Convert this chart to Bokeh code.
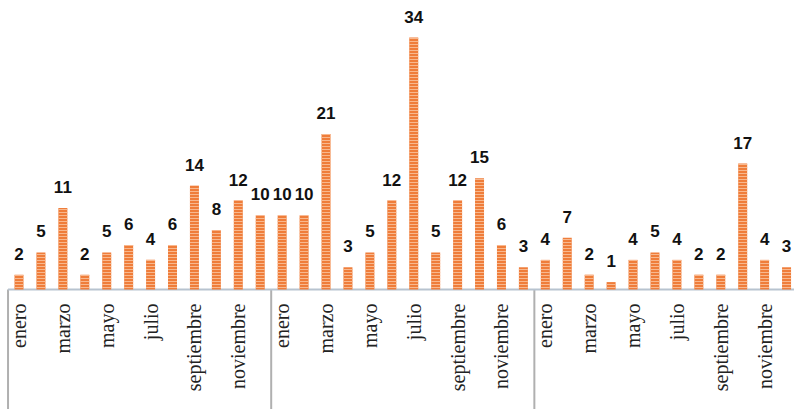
import math
from bokeh.plotting import figure
from bokeh.models import ColumnDataSource, Range1d
from bokeh.core.properties import value
from bokeh.embed import file_html
from bokeh.resources import INLINE

months = ["enero", "febrero", "marzo", "abril", "mayo", "junio", "julio",
          "agosto", "septiembre", "octubre", "noviembre", "diciembre"]
year1 = [2, 5, 11, 2, 5, 6, 4, 6, 14, 8, 12, 10]
year2 = [10, 10, 21, 3, 5, 12, 34, 5, 12, 15, 6, 3]
year3 = [4, 7, 2, 1, 4, 5, 4, 2, 2, 17, 4, 3]
years = [year1, year2, year3]

counts = year1 + year2 + year3
n = len(counts)
xs = list(range(n))
source = ColumnDataSource(dict(x=xs, top=counts, label=[str(v) for v in counts]))

tick_pos = [i for i in xs if i % 2 == 0]
tick_src = ColumnDataSource(dict(x=tick_pos, y=[0] * len(tick_pos),
                                 label=[months[i % 12] for i in tick_pos]))

W, H = 794, 409
pitch = 21.93
first_px = 18.5
base_px = 289
unit_px = 7.41

x0 = -first_px / pitch
y_top = base_px / unit_px
y_bot = -(H - base_px) / unit_px

p = figure(width=W, height=H, output_backend="svg", toolbar_location=None,
           x_range=Range1d(x0, x0 + W / pitch),
           y_range=Range1d(y_bot, y_top),
           x_axis_location=None, y_axis_location=None,
           min_border=0)
p.outline_line_color = None
p.grid.visible = False
p.background_fill_color = "white"
p.border_fill_color = "white"

# group separators and baseline
bounds = [k * 12 - 0.5 for k in range(len(years) + 1)]
p.segment(x0=bounds, x1=bounds, y0=[0] * len(bounds), y1=[y_bot] * len(bounds),
          line_color="#b0b0b0", line_width=2)
p.segment(x0=[bounds[0]], x1=[bounds[-1]], y0=[0], y1=[0],
          line_color="#b7c3cf", line_width=2)

p.vbar(x="x", top="top", width=0.41, bottom=0, source=source,
       fill_color="#ef7d3a", line_color=None,
       hatch_pattern="horizontal_line", hatch_color="#f8b88e",
       hatch_scale=3, hatch_weight=1)

p.text(x="x", y="top", text="label", source=source,
       text_align="center", text_baseline="alphabetic", y_offset=-21,
       text_font=value("Liberation Sans"), text_font_style="bold",
       text_font_size="17px", text_color="#111111")

p.text(x="x", y="y", text="label", source=tick_src,
       angle=math.pi / 2, text_align="right", text_baseline="middle",
       y_offset=14,
       text_font=value("Liberation Serif"), text_font_size="20px",
       text_color="#222222")

open("out.html", "w").write(file_html(p, INLINE))
